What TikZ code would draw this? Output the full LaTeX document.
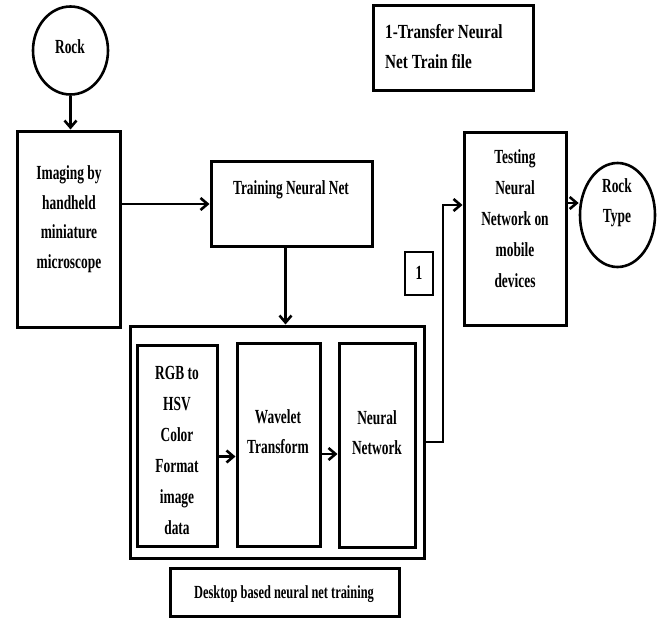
\documentclass[tikz,border=0pt]{standalone}
\usepackage{fontspec}
\setmainfont{Liberation Serif}
\newfontfamily\tnr[FakeStretch=0.67]{Liberation Serif}
\newfontfamily\tnrw[FakeStretch=0.76]{Liberation Serif}
\usetikzlibrary{arrows.meta,shapes.geometric}
\tikzset{
  boxnode/.style={draw, line width=3pt, rectangle, inner sep=0pt},
  ovalnode/.style={draw, line width=2.6pt, ellipse, inner sep=0pt},
  txt/.style={align=center, inner sep=0pt, font=\tnr\bfseries\fontsize{20}{30}\selectfont},
  arr/.style={line width=2.6pt, -{Straight Barb[length=7pt,width=12pt,line width=2.6pt]}}
}
\begin{document}
\begin{tikzpicture}[x=1pt,y=-1pt]
\useasboundingbox[fill=white] (0,0) rectangle (659,618);
% shapes
\node[ovalnode, minimum width=75pt, minimum height=88pt] (rock) at (70.5,50.5) {};
\node[boxnode, minimum width=103pt, minimum height=196pt] (imaging) at (68.5,229) {};
\node[boxnode, minimum width=161pt, minimum height=85pt] (training) at (291.5,204) {};
\node[boxnode, minimum width=294pt, minimum height=232pt] (outer) at (277,442) {};
\node[boxnode, minimum width=80pt, minimum height=201pt] (rgb) at (177,445.5) {};
\node[boxnode, minimum width=83pt, minimum height=203pt] (wavelet) at (278.5,444.5) {};
\node[boxnode, minimum width=76pt, minimum height=204pt] (neural) at (377,445) {};
\node[boxnode, minimum width=229pt, minimum height=48pt] (desktop) at (284.5,592) {};
\node[boxnode, minimum width=160pt, minimum height=85pt] (transfer) at (453,48.5) {};
\node[boxnode, minimum width=102pt, minimum height=193pt] (testing) at (515,228.5) {};
\node[boxnode, line width=2.2pt, minimum width=28pt, minimum height=43pt] (one) at (419,273.5) {};
\node[ovalnode, minimum width=75pt, minimum height=104pt] (rocktype) at (617.5,215) {};
% texts
\node[txt] (trock) at (70,47) {Rock};
\node[txt, font=\tnr\bfseries\fontsize{20}{29.5}\selectfont] (timaging) at (69,219) {Imaging by\\handheld\\miniature\\microscope};
\node[txt] (ttraining) at (291,190) {Training Neural Net};
\node[txt, font=\tnr\bfseries\fontsize{20}{31}\selectfont] (ttesting) at (515,218.5) {Testing\\Neural\\Network on\\mobile\\devices};
\node[txt] (trocktype) at (617,203) {Rock\\Type};
\node[txt, font=\tnr\bfseries\fontsize{20}{31}\selectfont] (trgb) at (177,450) {RGB to\\HSV\\Color\\Format\\image\\data};
\node[txt] (twavelet) at (278,432) {Wavelet\\Transform};
\node[txt] (tneural) at (377,433) {Neural\\Network};
\node[txt, font=\tnr\bfseries\fontsize{18.5}{26}\selectfont] (tdesktop) at (284,594) {Desktop based neural net training};
\node[txt, align=left, anchor=west, font=\tnrw\bfseries\fontsize{20}{30}\selectfont] (ttransfer) at (385,47) {1-Transfer Neural\\Net Train file};
\node[txt] (tone) at (419,273) {1};
% connectors
\draw[arr] (rock.south) -- (rock.south |- imaging.north);
\draw[arr] (imaging.east |- training.west) -- (training.west);
\draw[arr] ([xshift=-6pt]training.south) -- ([xshift=-6pt]training.south |- outer.north);
\draw[arr] ([yshift=-11pt]rgb.east) -- ([yshift=-11pt]rgb.east -| wavelet.west);
\draw[arr] ([yshift=-9.5pt]wavelet.east) -- ([yshift=-9.5pt]wavelet.east -| neural.west);
\coordinate (bendA) at (443,442);
\coordinate (bendB) at (443,205);
\draw[arr] (outer.east) -- (bendA) -- (bendB) -- (bendB -| testing.west);
\draw[arr] (testing.east |- 0,203) -- (rocktype.west |- 0,203);
\end{tikzpicture}
\end{document}
